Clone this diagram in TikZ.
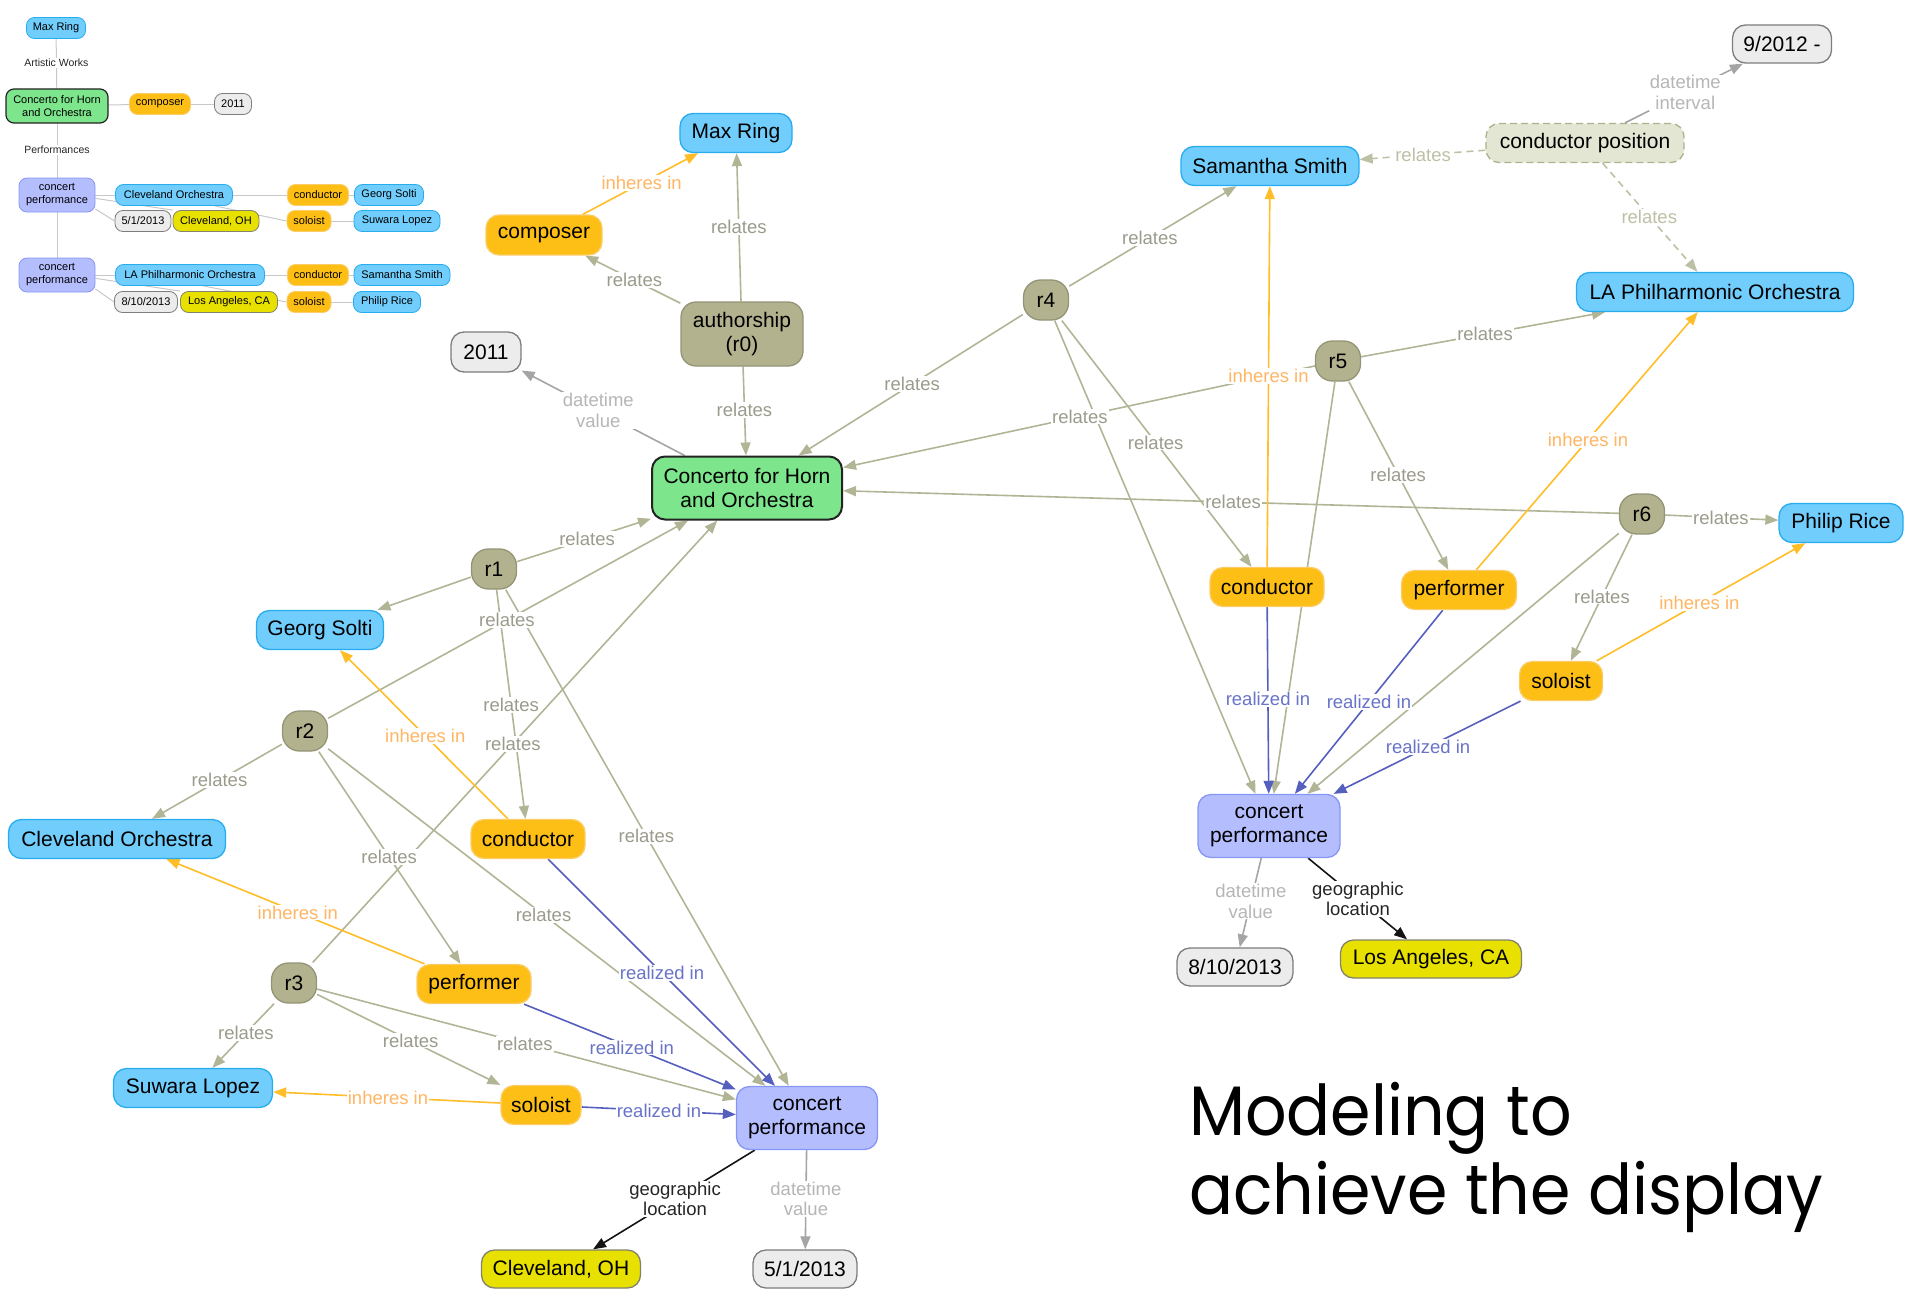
\documentclass[tikz,border=0pt]{standalone}
\usepackage{fontspec}
\setmainfont{Liberation Sans}
\newfontfamily\titlefont{Poppins}
\usetikzlibrary{arrows.meta,calc}
\pgfdeclarelayer{lines}
\pgfsetlayers{lines,main}

% node fills and borders
\definecolor{cBlue}{RGB}{112,205,252}
\definecolor{cBlueB}{RGB}{40,172,240}
\definecolor{cOrange}{RGB}{253,190,22}
\definecolor{cOrangeB}{RGB}{250,205,105}
\definecolor{cOlive}{RGB}{178,178,142}
\definecolor{cOliveB}{RGB}{148,148,118}
\definecolor{cGreen}{RGB}{125,230,140}
\definecolor{cDark}{RGB}{35,35,35}
\definecolor{cLav}{RGB}{180,190,255}
\definecolor{cLavB}{RGB}{135,150,245}
\definecolor{cGrayF}{RGB}{236,236,236}
\definecolor{cGrayB}{RGB}{125,125,125}
\definecolor{cYellow}{RGB}{232,225,0}
\definecolor{cYellowB}{RGB}{130,130,110}
\definecolor{cPos}{RGB}{228,230,212}
\definecolor{cPosB}{RGB}{175,176,140}
% connector colours
\definecolor{cRel}{RGB}{178,180,150}
\definecolor{cRelT}{RGB}{155,155,140}
\definecolor{cRelD}{RGB}{190,192,165}
\definecolor{cInh}{RGB}{255,190,40}
\definecolor{cInhT}{RGB}{255,182,100}
\definecolor{cReal}{RGB}{85,95,190}
\definecolor{cRealT}{RGB}{105,115,200}
\definecolor{cDtv}{RGB}{165,165,165}
\definecolor{cDtvT}{RGB}{182,182,182}
\definecolor{cGeo}{RGB}{20,20,20}
\definecolor{cSmall}{RGB}{200,200,200}

\tikzset{
  box/.style={rounded corners=13pt, minimum height=39pt, inner sep=0pt, align=center,
    line width=1.3pt, font=\fontsize{21}{24}\selectfont, text=black},
  wd/.style={minimum width=#1},
  person/.style={box, fill=cBlue, draw=cBlueB},
  role/.style={box, fill=cOrange, draw=cOrangeB},
  relnode/.style={box, fill=cOlive, draw=cOliveB, minimum width=45pt, minimum height=40pt, rounded corners=17pt},
  work/.style={box, fill=cGreen, draw=cDark, line width=2pt, minimum height=63pt},
  perf/.style={box, fill=cLav, draw=cLavB, minimum height=63pt},
  datebox/.style={box, fill=cGrayF, draw=cGrayB, minimum height=38pt},
  placebox/.style={box, fill=cYellow, draw=cYellowB, minimum height=38pt},
  posbox/.style={box, fill=cPos, draw=cPosB, dash pattern=on 7pt off 4pt},
  arrowtip/.style={-{Triangle[length=13pt,width=10pt]}},
  relates/.style={draw=cRel, line width=1.6pt, arrowtip},
  relatesd/.style={draw=cRelD, line width=1.6pt, dash pattern=on 7pt off 5pt, arrowtip},
  inheres/.style={draw=cInh, line width=1.6pt, arrowtip},
  realized/.style={draw=cReal, line width=1.6pt, arrowtip},
  dtv/.style={draw=cDtv, line width=1.6pt, arrowtip},
  geo/.style={draw=cGeo, line width=1.6pt, arrowtip},
  lab/.style={fill=white, inner sep=1pt, font=\fontsize{18.5}{20.5}\selectfont, align=center},
  lrel/.style={lab, text=cRelT},
  lreld/.style={lab, text=cRelD},
  linh/.style={lab, text=cInhT},
  lreal/.style={lab, text=cRealT},
  ldtv/.style={lab, text=cDtvT},
  lgeo/.style={lab, text=black!85},
  sbox/.style={rounded corners=8pt, minimum height=21pt, inner sep=0pt, align=center,
    line width=0.8pt, font=\fontsize{11}{13}\selectfont, text=black},
  sblue/.style={sbox, fill=cBlue, draw=cBlueB},
  sorange/.style={sbox, fill=cOrange, draw=cOrangeB},
  sgray/.style={sbox, fill=cGrayF, draw=cGrayB},
  syellow/.style={sbox, fill=cYellow, draw=cYellowB},
  slav/.style={sbox, fill=cLav, draw=cLavB, minimum height=34pt},
  sline/.style={draw=cSmall, line width=1pt},
  slab/.style={fill=white, inner sep=1pt, font=\fontsize{10.5}{12}\selectfont, text=black!85},
  captionline/.style={anchor=base west, inner sep=0pt, font=\titlefont\fontsize{70}{80}\selectfont},
}

% connector from #2 to #3 in style #1, label #6 in style #4 placed on the line near #5
\newcommand\link[6]{%
  \begin{pgfonlayer}{lines}\draw[#1] (#2) -- (#3);\end{pgfonlayer}%
  \node[#4] at ($(#2)!(#5)!(#3)$) {#6};}
% connector without a label
\newcommand\plainlink[3]{%
  \begin{pgfonlayer}{lines}\draw[#1] (#2) -- (#3);\end{pgfonlayer}}
% caption text, slightly narrowed
\newcommand\narrow[1]{\scalebox{0.93}[1]{#1}}

\begin{document}
\begin{tikzpicture}[x=1pt,y=-1pt]
\useasboundingbox (0,0) rectangle (1907,1290);

% ---------- overview display ----------
\node[sblue, wd=59pt] (sMax) at (56,28) {Max Ring};
\node[sbox, fill=cGreen, draw=cDark, line width=1.2pt, wd=102pt, minimum height=34pt] (sWork) at (57,106) {Concerto for Horn\\and Orchestra};
\node[sorange, wd=61pt] (sComp) at (160,104) {composer};
\node[sgray, wd=37pt] (sYear) at (233,104) {2011};
\node[slav, wd=76pt] (sPerfA) at (57,195) {concert\\performance};
\node[sblue, wd=117pt] (sOrchA) at (174,195) {Cleveland Orchestra};
\node[sorange, wd=61pt] (sCondA) at (318,195) {conductor};
\node[sblue, wd=69pt] (sSolti) at (389,195) {Georg Solti};
\node[sgray, wd=56pt] (sDateA) at (143,221) {5/1/2013};
\node[syellow, wd=86pt] (sCityA) at (216,221) {Cleveland, OH};
\node[sorange, wd=44pt] (sSoloA) at (309,221) {soloist};
\node[sblue, wd=86pt] (sLopez) at (397,221) {Suwara Lopez};
\node[slav, wd=76pt] (sPerfB) at (57,275) {concert\\performance};
\node[sblue, wd=149pt] (sOrchB) at (190,275) {LA Philharmonic Orchestra};
\node[sorange, wd=61pt] (sCondB) at (318,275) {conductor};
\node[sblue, wd=96pt] (sSmith) at (402,275) {Samantha Smith};
\node[sgray, wd=63pt] (sDateB) at (146,302) {8/10/2013};
\node[syellow, wd=97pt] (sCityB) at (229,302) {Los Angeles, CA};
\node[sorange, wd=44pt] (sSoloB) at (309,302) {soloist};
\node[sblue, wd=67pt] (sRice) at (387,302) {Philip Rice};

\link{sline}{sMax}{sWork}{slab}{56,63}{Artistic Works}
\link{sline}{sWork}{sPerfA}{slab}{57,150}{Performances}
\plainlink{sline}{sPerfA}{sPerfB}
\plainlink{sline}{sWork}{sComp}
\plainlink{sline}{sComp}{sYear}
\plainlink{sline}{sPerfA}{sOrchA}
\plainlink{sline}{sOrchA}{sCondA}
\plainlink{sline}{sCondA}{sSolti}
\plainlink{sline}{sPerfA.-20}{sDateA.west}
\plainlink{sline}{sPerfA.-5}{sCityA.north west}
\plainlink{sline}{sOrchA.-15}{sSoloA.west}
\plainlink{sline}{sSoloA}{sLopez}
\plainlink{sline}{sPerfB}{sOrchB}
\plainlink{sline}{sOrchB}{sCondB}
\plainlink{sline}{sCondB}{sSmith}
\plainlink{sline}{sPerfB.-20}{sDateB.west}
\plainlink{sline}{sPerfB.-5}{sCityB.north west}
\plainlink{sline}{sOrchB.-40}{sSoloB.west}
\plainlink{sline}{sSoloB}{sRice}

% ---------- model: work and authorship ----------
\node[person, wd=112pt] (maxRing) at (736,133) {Max Ring};
\node[role, wd=116pt, minimum height=40pt] (composer) at (544,235) {composer};
\node[relnode, wd=122pt, minimum height=64pt, rounded corners=15pt] (authorship) at (742,334) {authorship\\(r0)};
\node[datebox, wd=70pt, minimum height=40pt] (year) at (486,352) {2011};
\node[work, wd=190pt] (work) at (747,488) {Concerto for Horn\\and Orchestra};

% ---------- first performance ----------
\node[relnode] (rA) at (494,569) {r1};
\node[person, wd=127pt] (solti) at (320,630) {Georg Solti};
\node[relnode] (rB) at (305,731) {r2};
\node[person, wd=217pt] (cleveOrch) at (117,839) {Cleveland Orchestra};
\node[role, wd=114pt] (condA) at (528,839) {conductor};
\node[relnode] (rC) at (294,983) {r3};
\node[role, wd=114pt] (perfA) at (474,984) {performer};
\node[person, wd=159pt] (lopez) at (193,1088) {Suwara Lopez};
\node[role, wd=80pt] (soloA) at (541,1105) {soloist};
\node[perf, wd=141pt] (concA) at (807,1118) {concert\\performance};
\node[placebox, wd=159pt] (cityA) at (561,1269) {Cleveland, OH};
\node[datebox, wd=104pt] (dateA) at (805,1269) {5/1/2013};

% ---------- second performance ----------
\node[relnode] (rD) at (1046,300) {r4};
\node[person, wd=178pt] (smith) at (1270,166) {Samantha Smith};
\node[posbox, wd=198pt] (condPos) at (1585,143) {conductor position};
\node[datebox, wd=99pt] (since) at (1782,44) {9/2012 -};
\node[person, wd=277pt] (laPhil) at (1715,292) {LA Philharmonic Orchestra};
\node[relnode] (rE) at (1338,361) {r5};
\node[relnode] (rF) at (1642,514) {r6};
\node[person, wd=124pt] (rice) at (1841,523) {Philip Rice};
\node[role, wd=114pt] (condB) at (1267,587) {conductor};
\node[role, wd=115pt] (perfB) at (1459,590) {performer};
\node[role, wd=83pt] (soloB) at (1561,681) {soloist};
\node[perf, wd=142pt] (concB) at (1269,826) {concert\\performance};
\node[datebox, wd=116pt] (dateB) at (1235,967) {8/10/2013};
\node[placebox, wd=181pt] (cityB) at (1431,959) {Los Angeles, CA};

% ---------- connectors: authorship ----------
\link{relates}{authorship}{composer}{lrel}{635,279}{relates}
\link{relates}{authorship}{maxRing}{lrel}{739,227}{relates}
\link{relates}{authorship}{work}{lrel}{742,410}{relates}
\link{dtv}{work}{year}{ldtv}{598,411}{datetime\\value}
\link{inheres}{composer}{maxRing}{linh}{641,182}{inheres in}

% ---------- connectors: first performance ----------
\link{relates}{rA}{work}{lrel}{587,539}{relates}
\plainlink{relates}{rA}{solti}
\link{relates}{rA}{condA}{lrel}{511,705}{relates}
\link{relates}{rA}{concA}{lrel}{647,836}{relates}
\link{relates}{rB}{work}{lrel}{507,620}{relates}
\link{relates}{rB}{cleveOrch}{lrel}{220,781}{relates}
\link{relates}{rB}{perfA}{lrel}{389,857}{relates}
\link{relates}{rB}{concA}{lrel}{545,913}{relates}
\link{relates}{rC}{work}{lrel}{513,744}{relates}
\link{relates}{rC}{lopez}{lrel}{247,1034}{relates}
\link{relates}{rC}{soloA}{lrel}{411,1040}{relates}
\link{relates}{rC}{concA}{lrel}{525,1043}{relates}
\link{inheres}{condA}{solti}{linh}{426,735}{inheres in}
\link{inheres}{perfA}{cleveOrch}{linh}{298,912}{inheres in}
\link{inheres}{soloA}{lopez}{linh}{388,1097}{inheres in}
\link{realized}{condA}{concA}{lreal}{662,973}{realized in}
\link{realized}{perfA}{concA}{lreal}{632,1047}{realized in}
\link{realized}{soloA}{concA}{lreal}{659,1110}{realized in}
\link{geo}{concA}{cityA}{lgeo}{675,1199}{geographic\\location}
\link{dtv}{concA}{dateA}{ldtv}{806,1199}{datetime\\value}

% ---------- connectors: second performance ----------
\link{relates}{rD}{work}{lrel}{912,384}{relates}
\link{relates}{rD}{smith}{lrel}{1150,238}{relates}
\link{relates}{rD}{condB}{lrel}{1155,443}{relates}
\plainlink{relates}{rD}{concB}
\link{relates}{rE}{work}{lrel}{1080,417}{relates}
\link{relates}{rE}{laPhil}{lrel}{1485,334}{relates}
\link{relates}{rE}{perfB}{lrel}{1400,474}{relates}
\plainlink{relates}{rE}{concB}
\link{relates}{rF}{work}{lrel}{1233,502}{relates}
\link{relates}{rF}{rice}{lrel}{1721,517}{relates}
\link{relates}{rF}{soloB}{lrel}{1603,597}{relates}
\plainlink{relates}{rF}{concB}
\link{inheres}{condB}{smith}{linh}{1268,376}{inheres in}
\link{inheres}{perfB}{laPhil}{linh}{1587,439}{inheres in}
\link{inheres}{soloB}{rice}{linh}{1700,604}{inheres in}
\link{realized}{condB}{concB}{lreal}{1267,699}{realized in}
\link{realized}{perfB}{concB}{lreal}{1369,702}{realized in}
\link{realized}{soloB}{concB}{lreal}{1428,747}{realized in}
\link{dtv}{concB}{dateB}{ldtv}{1249,901}{datetime\\value}
\link{geo}{concB}{cityB}{lgeo}{1358,899}{geographic\\location}
\link{relatesd}{condPos}{smith}{lreld}{1423,154}{relates}
\link{relatesd}{condPos}{laPhil}{lreld}{1650,216}{relates}
\link{dtv}{condPos}{since}{ldtv}{1686,94}{datetime\\interval}

% ---------- caption ----------
\node[captionline] (captionA) at (1189,1135) {\narrow{Modeling to}};
\node[captionline] (captionB) at (1189,1214) {\narrow{achieve the display}};
\end{tikzpicture}
\end{document}
